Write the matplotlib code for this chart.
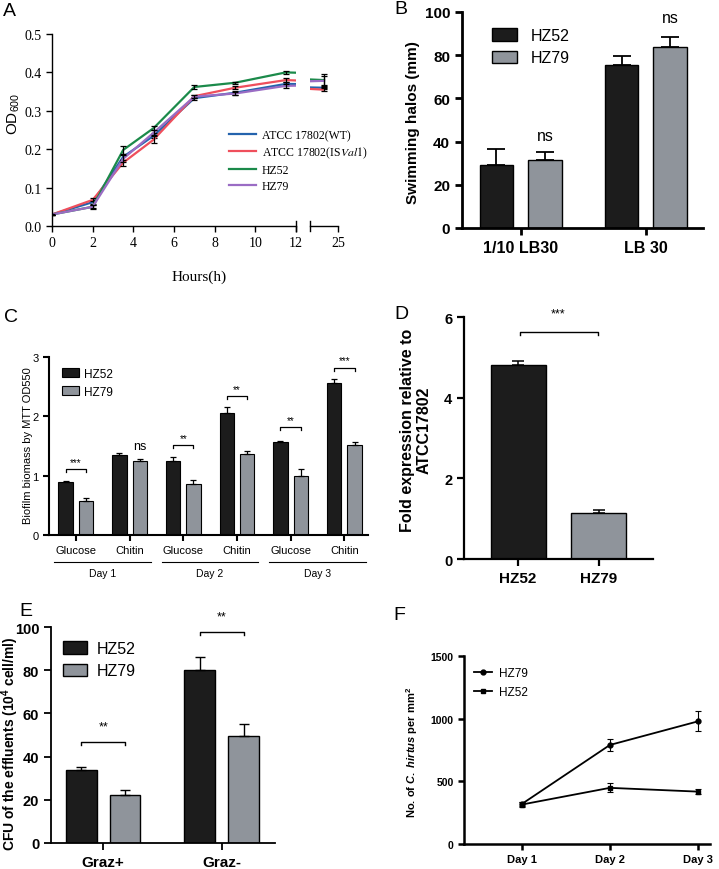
import numpy as np
import matplotlib
matplotlib.use("Agg")
import matplotlib.pyplot as plt

plt.rcParams['font.family'] = ['Liberation Sans', 'DejaVu Sans']
plt.rcParams['mathtext.fontset'] = 'custom'
plt.rcParams['mathtext.it'] = 'Liberation Sans:italic:bold'
plt.rcParams['mathtext.rm'] = 'Liberation Sans:bold'

W, H = 719, 870
BLACK = '#1c1c1c'
GREY = '#8f949b'

# ---- data ----
# A: growth curves
hours = [0, 2, 3.5, 5, 7, 9, 11.5, 24]
growth_names = ['ATCC 17802(WT)', r'ATCC 17802(IS$\it{Val1}$)', 'HZ52', 'HZ79']
growth_colors = ['#2463ad', '#ef4f5c', '#1b8a4a', '#9a6cc4']
od_wt = [0.03, 0.062, 0.180, 0.235, 0.333, 0.347, 0.370, 0.360]
od_isval = [0.03, 0.068, 0.165, 0.225, 0.338, 0.360, 0.380, 0.355]
od_hz52 = [0.03, 0.050, 0.198, 0.255, 0.362, 0.373, 0.400, 0.380]
od_hz79 = [0.03, 0.050, 0.175, 0.243, 0.337, 0.345, 0.365, 0.378]
od_err_wt = [0.002, 0.005, 0.008, 0.007, 0.004, 0.005, 0.006, 0.003]
od_err_isval = [0.002, 0.004, 0.008, 0.009, 0.004, 0.004, 0.006, 0.004]
od_err_hz52 = [0.002, 0.004, 0.010, 0.005, 0.004, 0.003, 0.004, 0.016]
od_err_hz79 = [0.002, 0.005, 0.009, 0.007, 0.004, 0.005, 0.005, 0.012]

strains = ['HZ52', 'HZ79']

# B: swimming halos
b_groups = ['1/10 LB30', 'LB 30']
b_hz52 = [29, 75.5]
b_hz52_err = [7.5, 4]
b_hz79 = [31.5, 84]
b_hz79_err = [3.5, 4.5]

# C: biofilm
c_cats = ['Glucose', 'Chitin'] * 3
c_days = ['Day 1', 'Day 2', 'Day 3']
c_hz52 = [0.90, 1.35, 1.25, 2.05, 1.56, 2.56]
c_hz52_err = [0.01, 0.04, 0.06, 0.10, 0.02, 0.07]
c_hz79 = [0.58, 1.25, 0.86, 1.36, 0.99, 1.52]
c_hz79_err = [0.04, 0.03, 0.07, 0.06, 0.12, 0.04]
c_sig = ['***', 'ns', '**', '**', '**', '***']
c_sig_y = [1.11, 1.50, 1.52, 2.34, 1.82, 2.82]

# D: fold expression
d_vals = [4.82, 1.15]
d_err = [0.08, 0.06]

# E: CFU
e_groups = ['Graz+', 'Graz-']
e_hz52 = [34, 80]
e_hz52_err = [1.2, 6]
e_hz79 = [22, 49.5]
e_hz79_err = [2.5, 5.5]
e_sig_y = [46.8, 97.7]

# F: grazer counts
f_days = ['Day 1', 'Day 2', 'Day 3']
f_hz79 = [320, 790, 978]
f_hz79_err = [15, 50, 80]
f_hz52 = [315, 448, 418]
f_hz52_err = [20, 35, 20]

fig = plt.figure(figsize=(W / 100, H / 100), dpi=100)


def add_ax(x0, y0, x1, y1):
    return fig.add_axes([x0 / W, 1 - y1 / H, (x1 - x0) / W, (y1 - y0) / H])


def clean(ax, lw):
    ax.spines['top'].set_visible(False)
    ax.spines['right'].set_visible(False)
    for s in ('left', 'bottom'):
        ax.spines[s].set_linewidth(lw)
    ax.tick_params(width=lw, length=4, direction='out')


def bracket(ax, x0, x1, y, dy, lw=0.9):
    ax.plot([x0, x0, x1, x1], [y - dy, y, y, y - dy], color='k', lw=lw, clip_on=False)


def ftext(x, y, s, **kw):
    fig.text(x / W, 1 - y / H, s, **kw)


# ---- A ----
axA1 = add_ax(52, 35, 296, 227)
axA2 = add_ax(310, 35, 338, 227)
axA2.patch.set_visible(False)
series = [od_wt, od_isval, od_hz52, od_hz79]
errs = [od_err_wt, od_err_isval, od_err_hz52, od_err_hz79]
lines = []
for ax in (axA1, axA2):
    for vals, err, col, name in zip(series, errs, growth_colors, growth_names):
        ln, = ax.plot(hours, vals, color=col, lw=1.6, label=name)
        ax.errorbar(hours, vals, yerr=err, fmt='none', ecolor='k', elinewidth=0.9,
                    capsize=2.5, capthick=0.9)
        if ax is axA1:
            lines.append(ln)
    ax.set_ylim(0, 0.5)
    clean(ax, 1.0)
axA1.set_xlim(0, 12)
axA2.set_xlim(23, 25)
axA1.set_xticks(range(0, 13, 2))
axA1.set_yticks(np.arange(0, 0.51, 0.1))
axA1.set_yticklabels(['%.1f' % v for v in np.arange(0, 0.51, 0.1)])
axA2.set_xticks([25])
axA2.spines['left'].set_visible(False)
axA2.set_yticks([])
for ax in (axA1, axA2):
    for lab in ax.get_xticklabels() + ax.get_yticklabels():
        lab.set_fontfamily('Liberation Serif')
        lab.set_fontsize(10)
axA1.plot([1, 1], [-0.025, 0.025], transform=axA1.transAxes, color='k', lw=1, clip_on=False)
axA2.plot([0, 0], [-0.025, 0.025], transform=axA2.transAxes, color='k', lw=1, clip_on=False)
legA = axA1.legend(handles=lines, loc='upper left', bbox_to_anchor=(229 / W, 1 - 130 / H),
                   bbox_transform=fig.transFigure, frameon=False, borderpad=0, borderaxespad=0,
                   handlelength=2.3, handletextpad=0.5, labelspacing=0.32,
                   prop={'family': 'Liberation Serif', 'size': 8.5})
legA.get_texts()[1].set_math_fontfamily('stix')
ftext(199, 277, 'Hours(h)', family='Liberation Serif', fontsize=11, ha='center', va='center')
ftext(14, 114, r'OD$_{\mathregular{600}}$', fontsize=11, rotation=90, ha='center', va='center')

# ---- B ----
axB = add_ax(462, 13, 703, 229)
xb = np.arange(len(b_groups))
axB.bar(xb - 0.195, b_hz52, 0.27, color=BLACK, edgecolor='k', lw=1, label=strains[0])
axB.bar(xb + 0.195, b_hz79, 0.27, color=GREY, edgecolor='k', lw=1, label=strains[1])
axB.errorbar(xb - 0.195, b_hz52, yerr=[np.zeros(2), b_hz52_err], fmt='none', ecolor='k',
             elinewidth=1.3, capsize=6.5, capthick=1.3)
axB.errorbar(xb + 0.195, b_hz79, yerr=[np.zeros(2), b_hz79_err], fmt='none', ecolor='k',
             elinewidth=1.3, capsize=6.5, capthick=1.3)
axB.set_xlim(-0.47, 1.456)
axB.set_ylim(0, 100)
clean(axB, 2.0)
axB.tick_params(length=5)
axB.set_xticks(xb)
axB.set_xticklabels(b_groups, fontsize=11.5, fontweight='bold')
axB.set_yticks(range(0, 101, 20))
axB.set_yticklabels([str(v) for v in range(0, 101, 20)], fontsize=11, fontweight='bold')
axB.text(0.195, 43, 'ns', ha='center', va='center', fontsize=11.5)
axB.text(1.195, 97.5, 'ns', ha='center', va='center', fontsize=11.5)
axB.legend(loc='upper left', bbox_to_anchor=(492 / W, 1 - 29 / H), bbox_transform=fig.transFigure,
           frameon=False, borderpad=0, borderaxespad=0, handlelength=1.55, handleheight=0.8,
           handletextpad=0.9, labelspacing=0.45, fontsize=11.5)
ftext(413, 123, 'Swimming halos (mm)', fontsize=11, fontweight='bold', rotation=90,
      ha='center', va='center')

# ---- C ----
axC = add_ax(49, 358, 368, 536)
xc = np.arange(len(c_cats))
axC.bar(xc - 0.19, c_hz52, 0.27, color=BLACK, edgecolor='k', lw=0.8, label=strains[0])
axC.bar(xc + 0.19, c_hz79, 0.27, color=GREY, edgecolor='k', lw=0.8, label=strains[1])
axC.errorbar(xc - 0.19, c_hz52, yerr=[np.zeros(6), c_hz52_err], fmt='none', ecolor='k',
             elinewidth=0.9, capsize=2.5, capthick=0.9)
axC.errorbar(xc + 0.19, c_hz79, yerr=[np.zeros(6), c_hz79_err], fmt='none', ecolor='k',
             elinewidth=0.9, capsize=2.5, capthick=0.9)
axC.set_xlim(-0.5, 5.44)
axC.set_ylim(0, 3)
clean(axC, 1.5)
axC.set_xticks(xc)
axC.set_xticklabels(c_cats, fontsize=8)
axC.set_yticks([0, 1, 2, 3])
axC.set_yticklabels(['0', '1', '2', '3'], fontsize=8)
for i, (s, y) in enumerate(zip(c_sig, c_sig_y)):
    if s == 'ns':
        axC.text(i + 0.19, y, s, ha='center', va='center', fontsize=9)
    else:
        bracket(axC, i - 0.19, i + 0.19, y, 0.05, lw=0.9)
        axC.text(i, y + 0.12, s, ha='center', va='center', fontsize=7)
for k, day in enumerate(c_days):
    a, b = 2 * k - 0.4, 2 * k + 1.4
    axC.plot([a, b], [-0.152, -0.152], transform=axC.get_xaxis_transform(), color='k',
             lw=0.8, clip_on=False)
    axC.text((a + b) / 2, -0.215, day, transform=axC.get_xaxis_transform(), ha='center',
             va='center', fontsize=7.5)
axC.legend(loc='upper left', bbox_to_anchor=(62 / W, 1 - 369 / H), bbox_transform=fig.transFigure,
           frameon=False, borderpad=0, borderaxespad=0, handlelength=1.4, handleheight=0.8,
           handletextpad=0.5, labelspacing=0.5, fontsize=8.5)
ftext(28, 446, 'Biofilm biomass by MTT OD550', fontsize=8, rotation=90, ha='center', va='center')

# ---- D ----
axD = add_ax(464, 318, 653, 560)
xd = np.arange(2)
axD.bar(xd, d_vals, 0.68, color=[BLACK, GREY], edgecolor='k', lw=1)
axD.errorbar(xd, d_vals, yerr=[np.zeros(2), d_err], fmt='none', ecolor='k', elinewidth=1.1,
             capsize=4.5, capthick=1.1)
axD.set_xlim(-0.67, 1.67)
axD.set_ylim(0, 6)
clean(axD, 1.6)
axD.tick_params(length=5)
axD.set_xticks(xd)
axD.set_xticklabels(strains, fontsize=11, fontweight='bold')
axD.set_yticks([0, 2, 4, 6])
axD.set_yticklabels(['0', '2', '4', '6'], fontsize=10.5, fontweight='bold')
bracket(axD, 0.02, 0.99, 5.63, 0.08, lw=1)
axD.text(0.5, 6.1, '***', ha='center', va='center', fontsize=9)
ftext(416, 430, 'Fold expression relative to\nATCC17802', fontsize=11.5, fontweight='bold',
      rotation=90, ha='center', va='center', linespacing=1.1)

# ---- E ----
axE = add_ax(51, 628, 275, 844)
xe = np.arange(len(e_groups))
axE.bar(xe - 0.185, e_hz52, 0.26, color=BLACK, edgecolor='k', lw=1, label=strains[0])
axE.bar(xe + 0.185, e_hz79, 0.26, color=GREY, edgecolor='k', lw=1, label=strains[1])
axE.errorbar(xe - 0.185, e_hz52, yerr=[np.zeros(2), e_hz52_err], fmt='none', ecolor='k',
             elinewidth=1, capsize=3.5, capthick=1)
axE.errorbar(xe + 0.185, e_hz79, yerr=[np.zeros(2), e_hz79_err], fmt='none', ecolor='k',
             elinewidth=1, capsize=3.5, capthick=1)
axE.set_xlim(-0.44, 1.45)
axE.set_ylim(0, 100)
clean(axE, 1.3)
axE.tick_params(length=5)
axE.set_xticks(xe)
axE.set_xticklabels(e_groups, fontsize=11, fontweight='bold')
axE.set_yticks(range(0, 101, 20))
axE.set_yticklabels([str(v) for v in range(0, 101, 20)], fontsize=10.5, fontweight='bold')
for i, y in enumerate(e_sig_y):
    bracket(axE, i - 0.185, i + 0.185, y, 1.4, lw=1)
    axE.text(i, y + 7, '**', ha='center', va='center', fontsize=9)
axE.legend(loc='upper left', bbox_to_anchor=(63 / W, 1 - 642 / H), bbox_transform=fig.transFigure,
           frameon=False, borderpad=0, borderaxespad=0, handlelength=1.5, handleheight=0.8,
           handletextpad=0.6, labelspacing=0.45, fontsize=11.5)
ftext(10, 744, r'CFU of the effluents (10$^{4}$ cell/ml)', fontsize=10, fontweight='bold',
      rotation=90, ha='center', va='center')

# ---- F ----
axF = add_ax(464, 657, 710, 845)
xf = np.arange(1, 4)
axF.errorbar(xf, f_hz79, yerr=f_hz79_err, fmt='none', ecolor='k', capsize=2, capthick=0.8,
             elinewidth=0.8)
axF.errorbar(xf, f_hz52, yerr=f_hz52_err, fmt='none', ecolor='k', capsize=2, capthick=0.8,
             elinewidth=0.8)
axF.plot(xf, f_hz79, color='k', lw=1.3, marker='o', ms=3.5, label='HZ79')
axF.plot(xf, f_hz52, color='k', lw=1.3, marker='s', ms=3.5, label='HZ52')
axF.set_xlim(0.34, 3.14)
axF.set_ylim(0, 1500)
clean(axF, 1.8)
axF.set_xticks(xf)
axF.set_xticklabels(f_days, fontsize=8, fontweight='bold')
axF.set_yticks([0, 500, 1000, 1500])
axF.set_yticklabels(['0', '500', '1000', '1500'], fontsize=7.5, fontweight='bold')
axF.legend(loc='upper left', bbox_to_anchor=(474 / W, 1 - 668 / H), bbox_transform=fig.transFigure,
           frameon=False, borderpad=0, borderaxespad=0, handlelength=1.5, handletextpad=0.6,
           labelspacing=0.6, fontsize=8.5)
ftext(412, 752, r'No. of $\it{C.}$ $\it{hirtus}$ per mm$^{2}$', fontsize=8, fontweight='bold',
      rotation=90, ha='center', va='center')

# ---- panel letters ----
for letter, (x, y) in zip('ABCDEF', [(9, 12), (401, 10), (11, 317), (401, 315), (26, 611), (399, 616)]):
    ftext(x, y, letter, fontsize=14, ha='center', va='center')

fig.savefig('out.png', dpi=100)
